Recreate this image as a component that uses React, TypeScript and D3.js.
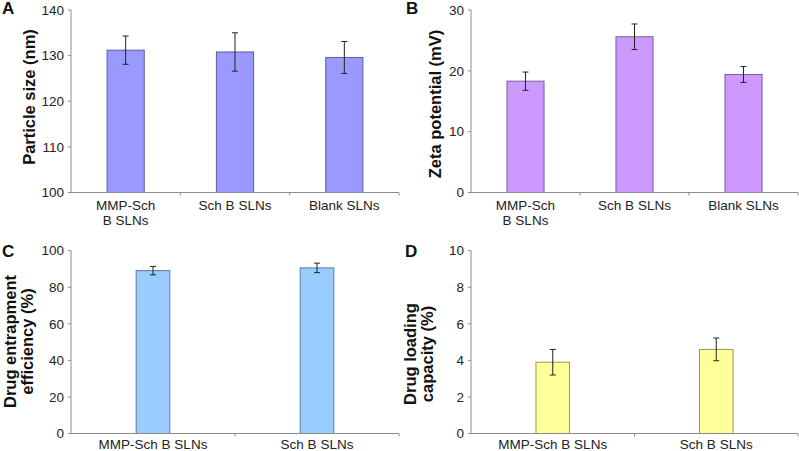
import React from "react";
import * as d3 from "d3";

const catsAB = [["MMP-Sch", "B SLNs"], ["Sch B SLNs"], ["Blank SLNs"]];
const catsCD = [["MMP-Sch B SLNs"], ["Sch B SLNs"]];

const sizeValues = [131.2, 130.8, 129.6];
const sizeErr = [3.1, 4.2, 3.5];
const sizeTicks = [100, 110, 120, 130, 140];

const zetaValues = [18.3, 25.6, 19.4];
const zetaErr = [1.5, 2.1, 1.3];
const zetaTicks = [0, 10, 20, 30];

const eeValues = [89.1, 90.6];
const eeErr = [2.3, 2.6];
const eeTicks = [0, 20, 40, 60, 80, 100];

const dlValues = [3.9, 4.6];
const dlErr = [0.7, 0.62];
const dlTicks = [0, 2, 4, 6, 8, 10];

const FONT = "'Liberation Sans', Arial, Helvetica, sans-serif";

type PanelProps = {
  letter: string;
  letterX: number;
  letterY: number;
  x0: number;
  x1: number;
  yTop: number;
  yBot: number;
  cats: string[][];
  values: number[];
  errs: number[];
  ticks: number[];
  titleLines: string[];
  titleX: number[];
  titleCY: number;
  fill: string;
  stroke: string;
  barFrac: number;
  labelY: number;
};

function Panel(p: PanelProps) {
  const domain = p.cats.map((c) => c.join(" "));
  const x = d3.scaleBand<string>().domain(domain).range([p.x0, p.x1]).padding(0);
  const y = d3
    .scaleLinear()
    .domain([p.ticks[0], p.ticks[p.ticks.length - 1]])
    .range([p.yBot, p.yTop]);
  const bw = x.bandwidth() * p.barFrac;
  const boundaries = domain.map((d) => (x(d) as number) + x.bandwidth());
  const axisColor = "#8c8c8c";
  return (
    <g fontFamily={FONT}>
      <text x={p.letterX} y={p.letterY} fontSize={17} fontWeight="bold" fill="#111">
        {p.letter}
      </text>
      {p.values.map((v, i) => {
        const cx = (x(domain[i]) as number) + x.bandwidth() / 2;
        return (
          <g key={i}>
            <rect
              x={cx - bw / 2}
              y={y(v)}
              width={bw}
              height={y(p.ticks[0]) - y(v)}
              fill={p.fill}
              stroke={p.stroke}
              strokeWidth={1}
            />
            <line x1={cx} x2={cx} y1={y(v - p.errs[i])} y2={y(v + p.errs[i])} stroke="#222" strokeWidth={1} />
            <line x1={cx - 3} x2={cx + 3} y1={y(v + p.errs[i])} y2={y(v + p.errs[i])} stroke="#222" strokeWidth={1} />
            <line x1={cx - 3} x2={cx + 3} y1={y(v - p.errs[i])} y2={y(v - p.errs[i])} stroke="#222" strokeWidth={1} />
          </g>
        );
      })}
      <line x1={p.x0} x2={p.x0} y1={p.yTop} y2={p.yBot} stroke={axisColor} strokeWidth={1} />
      {p.ticks.map((t) => (
        <g key={t}>
          <line x1={p.x0 - 3} x2={p.x0} y1={y(t)} y2={y(t)} stroke={axisColor} strokeWidth={1} />
          <text x={p.x0 - 7} y={y(t)} dy="0.35em" textAnchor="end" fontSize={13.5} fill="#222">
            {t}
          </text>
        </g>
      ))}
      <line x1={p.x0} x2={p.x1} y1={p.yBot} y2={p.yBot} stroke={axisColor} strokeWidth={1} />
      {boundaries.map((b, i) => (
        <line key={i} x1={b} x2={b} y1={p.yBot} y2={p.yBot + 3} stroke={axisColor} strokeWidth={1} />
      ))}
      {p.cats.map((lines, i) => {
        const cx = (x(domain[i]) as number) + x.bandwidth() / 2;
        return (
          <text key={i} textAnchor="middle" fontSize={13.5} fill="#222">
            {lines.map((l, j) => (
              <tspan key={j} x={cx} y={p.labelY + j * 15}>
                {l}
              </tspan>
            ))}
          </text>
        );
      })}
      {p.titleLines.map((t, j) => (
        <text
          key={j}
          transform={`translate(${p.titleX[j]},${p.titleCY}) rotate(-90)`}
          textAnchor="middle"
          fontSize={16.5}
          fontWeight="bold"
          fill="#111"
        >
          {t}
        </text>
      ))}
    </g>
  );
}

export default function App() {
  return (
    <div style={{ position: "absolute", left: 0, top: 0, width: 799, height: 451, background: "#fff" }}>
      <svg width={799} height={451} style={{ display: "block" }}>
        <rect width={799} height={451} fill="#fff" />
        <Panel
          letter="A"
          letterX={2}
          letterY={14}
          x0={71}
          x1={399}
          yTop={10}
          yBot={192.5}
          cats={catsAB}
          values={sizeValues}
          errs={sizeErr}
          ticks={sizeTicks}
          titleLines={["Particle size (nm)"]}
          titleX={[35]}
          titleCY={97}
          fill="#9999ff"
          stroke="#5c5c99"
          barFrac={0.34}
          labelY={210}
        />
        <Panel
          letter="B"
          letterX={406}
          letterY={14}
          x0={471}
          x1={798}
          yTop={10}
          yBot={192.5}
          cats={catsAB}
          values={zetaValues}
          errs={zetaErr}
          ticks={zetaTicks}
          titleLines={["Zeta potential (mV)"]}
          titleX={[441]}
          titleCY={104}
          fill="#cc99ff"
          stroke="#7a5c99"
          barFrac={0.34}
          labelY={210}
        />
        <Panel
          letter="C"
          letterX={2}
          letterY={257}
          x0={71}
          x1={399}
          yTop={250.7}
          yBot={433.5}
          cats={catsCD}
          values={eeValues}
          errs={eeErr}
          ticks={eeTicks}
          titleLines={["Drug entrapment", "efficiency (%)"]}
          titleX={[16, 33]}
          titleCY={341.5}
          fill="#99ccff"
          stroke="#5c7a99"
          barFrac={0.205}
          labelY={449}
        />
        <Panel
          letter="D"
          letterX={405}
          letterY={257}
          x0={471}
          x1={798}
          yTop={250.7}
          yBot={433.5}
          cats={catsCD}
          values={dlValues}
          errs={dlErr}
          ticks={dlTicks}
          titleLines={["Drug loading", "capacity (%)"]}
          titleX={[416, 433]}
          titleCY={354}
          fill="#ffff99"
          stroke="#99995c"
          barFrac={0.205}
          labelY={449}
        />
      </svg>
    </div>
  );
}
